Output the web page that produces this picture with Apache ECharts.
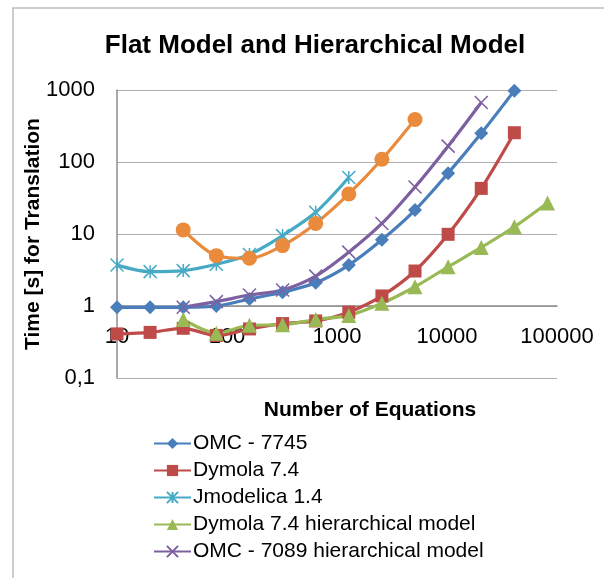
<!DOCTYPE html>
<html>
<head>
<meta charset="utf-8">
<script src="https://cdn.jsdelivr.net/npm/echarts@6/dist/echarts.min.js"></script>
<style>
html,body{margin:0;padding:0;background:#fff;}
#chart{width:604px;height:578px;}
</style>
</head>
<body>
<div id="chart"></div>
<script>
const equations = [10, 20, 40, 80, 160, 320, 640, 1280, 2560, 5120, 10240, 20480, 40960, 81920];
const omc7745 = [0.96, 0.96, 0.96, 1.0, 1.25, 1.55, 2.1, 3.7, 8.3, 21.5, 70, 250, 980, null];
const dymola74 = [0.41, 0.43, 0.49, 0.39, 0.48, 0.57, 0.62, 0.82, 1.38, 3.06, 9.9, 43, 255, null];
const jmodelica14 = [3.7, 3.0, 3.1, 3.8, 5.2, 9.5, 20, 61, null, null, null, null, null, null];
const dymola74Hier = [null, null, 0.65, 0.42, 0.54, 0.55, 0.65, 0.74, 1.09, 1.85, 3.5, 6.5, 12.6, 27];
const omc7089Hier = [null, null, 0.96, 1.15, 1.42, 1.67, 2.6, 5.6, 14, 45, 166, 670, null, null];
const series6 = [null, null, 11.4, 5.0, 4.6, 6.9, 14, 36, 109, 390, null, null, null, null];
const xTicks = ['10', '100', '1000', '10000', '100000'];
const yTicks = ['0,1', '1', '10', '100', '1000'];

const FONT = 'Liberation Sans';
const pairs = vals => equations.map((x, i) => [x, vals[i]]).filter(p => p[1] !== null);

const xPath = 'path://M0,0 L10,10 M10,0 L0,10';
const starPath = 'path://M5,0 L5,10 M0,0 L10,10 M0,10 L10,0';

function line(name, vals, color, symbol, size, stroke) {
  return {
    name: name,
    type: 'line',
    data: pairs(vals),
    smooth: 0.3,
    symbol: symbol,
    symbolSize: size,
    showSymbol: true,
    lineStyle: { color: color, width: 3.2 },
    itemStyle: stroke ? { color: 'rgba(0,0,0,0)', borderColor: color, borderWidth: 1.5 } : { color: color, borderColor: color, borderWidth: 0 },
    emphasis: { disabled: true },
    z: 3
  };
}

const chart = echarts.init(document.getElementById('chart'));
chart.setOption({
  animation: false,
  backgroundColor: '#fff',
  title: {
    text: 'Flat Model and Hierarchical Model',
    left: 310, top: 28, textAlign: 'center',
    textStyle: { fontFamily: FONT, fontSize: 26, fontWeight: 'bold', color: '#000' }
  },
  graphic: [{
    type: 'polyline',
    shape: { points: [[13, 578], [13, 8], [604, 8]] },
    style: { stroke: '#BDBDBD', lineWidth: 1.5, fill: null },
    silent: true
  }],
  legend: {
    orient: 'vertical',
    left: 148, top: 428,
    itemWidth: 37, itemHeight: 14, itemGap: 6,
    data: ['OMC - 7745', 'Dymola 7.4', 'Jmodelica 1.4', 'Dymola 7.4 hierarchical model', 'OMC - 7089 hierarchical model'],
    textStyle: { fontFamily: FONT, fontSize: 21, color: '#000', padding: [0, 0, 0, -3] }
  },
  grid: { left: 117, right: 47, top: 90, bottom: 200, containLabel: false },
  xAxis: {
    type: 'log', logBase: 10, min: 10, max: 100000,
    offset: -72,
    name: 'Number of Equations', nameLocation: 'middle', nameGap: 94,
    nameMoveOverlap: false,
    nameTextStyle: { fontFamily: FONT, fontSize: 21, fontWeight: 'bold', color: '#000', padding: [0, 0, 0, 66] },
    axisLine: { show: true, lineStyle: { color: '#8C8C8C', width: 1.5 } },
    axisTick: { show: false },
    splitLine: { show: false },
    minorTick: { show: false },
    axisLabel: {
      fontFamily: FONT, fontSize: 22, color: '#000', margin: 20, showMinLabel: true, showMaxLabel: true,
      formatter: v => xTicks[Math.round(Math.log10(v)) - 1]
    }
  },
  yAxis: {
    type: 'log', logBase: 10, min: 0.1, max: 1000,
    name: 'Time [s] for Translation', nameLocation: 'middle', nameGap: 73, nameRotate: 90,
    nameMoveOverlap: false,
    nameTextStyle: { fontFamily: FONT, fontSize: 21, fontWeight: 'bold', color: '#000' },
    axisLine: { show: true, lineStyle: { color: '#8C8C8C', width: 1.5 } },
    axisTick: { show: false },
    splitLine: { show: true, lineStyle: { color: '#AFAFAF', width: 1.2 } },
    axisLabel: {
      fontFamily: FONT, fontSize: 22, color: '#000', margin: 22,
      formatter: v => yTicks[Math.round(Math.log10(v)) + 1]
    }
  },
  series: [
    line('OMC - 7745', omc7745, '#4A7EBB', 'diamond', 14),
    line('Dymola 7.4', dymola74, '#BE4B48', 'rect', 13),
    line('Jmodelica 1.4', jmodelica14, '#46AAC5', starPath, 13, true),
    line('Dymola 7.4 hierarchical model', dymola74Hier, '#98B954', 'triangle', 15),
    line('OMC - 7089 hierarchical model', omc7089Hier, '#7D60A0', xPath, 13, true),
    line('Series 6', series6, '#E98A3C', 'circle', 15)
  ]
});
</script>
</body>
</html>
